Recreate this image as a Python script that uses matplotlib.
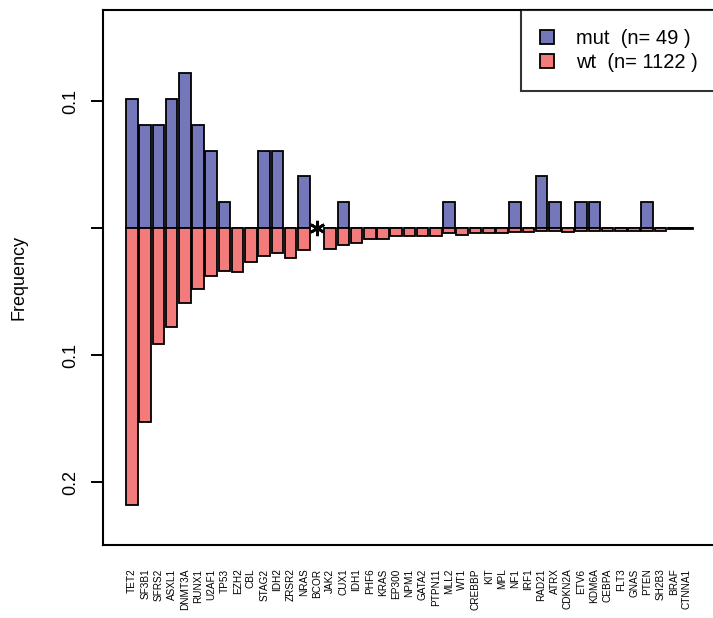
import matplotlib
matplotlib.use("Agg")
import matplotlib.pyplot as plt
from matplotlib.patches import Patch

plt.rcParams['font.family'] = ['Liberation Sans', 'DejaVu Sans']

genes = ["TET2", "SF3B1", "SFRS2", "ASXL1", "DNMT3A", "RUNX1", "U2AF1", "TP53",
         "EZH2", "CBL", "STAG2", "IDH2", "ZRSR2", "NRAS", "BCOR", "JAK2", "CUX1",
         "IDH1", "PHF6", "KRAS", "EP300", "NPM1", "GATA2", "PTPN11", "MLL2", "WT1",
         "CREBBP", "KIT", "MPL", "NF1", "IRF1", "RAD21", "ATRX", "CDKN2A", "ETV6",
         "KDM6A", "CEBPA", "FLT3", "GNAS", "PTEN", "SH2B3", "BRAF", "CTNNA1"]

n_mut = 49
n_wt = 1122

# mutation counts in each group (BCOR marked with an asterisk, no bars)
mut_counts = [5, 4, 4, 5, 6, 4, 3, 1,
              0, 0, 3, 3, 0, 2, None, 0, 1,
              0, 0, 0, 0, 0, 0, 0, 1, 0,
              0, 0, 0, 1, 0, 2, 1, 0, 1,
              1, 0, 0, 0, 1, 0, 0, 0]
wt_counts = [244, 171, 102, 87, 66, 54, 42, 38,
             39, 30, 24, 22, 26, 19, None, 18, 15,
             13, 9, 9, 7, 7, 7, 7, 4, 6,
             4, 4, 4, 3, 3, 2, 2, 3, 2,
             2, 2, 2, 2, 2, 2, 1, 1]
starred = ["BCOR"]

mut_color = "#7478BA"
wt_color = "#F47B7B"

fig = plt.figure(figsize=(7.13, 6.18), dpi=100)
ax = fig.add_axes([103.3 / 713, 73 / 618, (714 - 103.3) / 713, (545 - 10) / 618])

xs = list(range(len(genes)))
for i, g in enumerate(genes):
    m = mut_counts[i]
    w = wt_counts[i]
    if m is None or w is None:
        continue
    ax.bar(i, m / n_mut, width=0.88, bottom=0, color=mut_color,
           edgecolor="black", linewidth=1.3, zorder=2)
    ax.bar(i, -w / n_wt, width=0.88, bottom=0, color=wt_color,
           edgecolor="black", linewidth=1.3, zorder=2)

for g in starred:
    i = genes.index(g)
    ax.plot([i], [0], linestyle="none", marker=(6, 2, 0), markersize=11,
            markeredgewidth=2.0, color="black", zorder=3)

ax.set_xlim(-2.17, 44.05)
ax.set_ylim(-0.2492, 0.1718)

ax.set_xticks(xs)
ax.set_xticklabels(genes, rotation=90, fontsize=7.2, va="top", ha="center")
ax.tick_params(axis="x", length=0, pad=17)

ax.set_yticks([0.1, 0.0, -0.1, -0.2])
ax.set_yticklabels(["0.1", "", "0.1", "0.2"], rotation=90, va="center", fontsize=13)
ax.tick_params(axis="y", length=9, width=1.4, pad=8)

ax.set_ylabel("Frequency", fontsize=13, labelpad=25)

for s in ["left", "bottom", "top"]:
    ax.spines[s].set_linewidth(1.5)
ax.spines["right"].set_visible(False)

handles = [Patch(facecolor=mut_color, edgecolor="black", linewidth=1.3),
           Patch(facecolor=wt_color, edgecolor="black", linewidth=1.3)]
labels = [f"mut  (n= {n_mut} )", f"wt  (n= {n_wt} )"]
leg = ax.legend(handles, labels, loc="upper right", bbox_to_anchor=(1.004, 1.0),
                fontsize=14.5, frameon=True, fancybox=False, borderaxespad=0,
                handlelength=0.7, handleheight=0.7, handletextpad=1.05,
                borderpad=0.95, labelspacing=0.25)
leg.get_frame().set_edgecolor("black")
leg.get_frame().set_linewidth(1.5)

fig.savefig("out.png", dpi=100)
